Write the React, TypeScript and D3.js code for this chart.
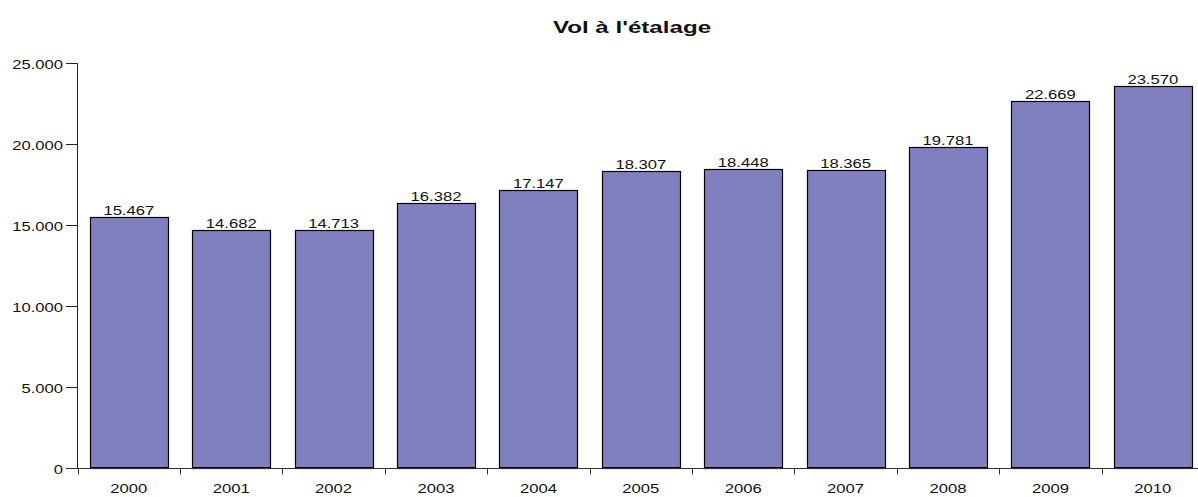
import React, { useRef, useEffect } from 'react';
import * as d3 from 'd3';

// données
const years = ['2000', '2001', '2002', '2003', '2004', '2005', '2006', '2007', '2008', '2009', '2010'];
const values = [15467, 14682, 14713, 16382, 17147, 18307, 18448, 18365, 19781, 22669, 23570];
const yTicks = [0, 5000, 10000, 15000, 20000, 25000];
const title = "Vol à l'étalage";

const fmt = (v: number) => {
  const s = String(v);
  return s.length > 3 ? s.slice(0, s.length - 3) + '.' + s.slice(-3) : s;
};

const App: React.FC = () => {
  const svgRef = useRef<SVGSVGElement>(null);

  useEffect(() => {
    if (!svgRef.current) return;
    const svg = d3.select(svgRef.current);
    svg.selectAll('*').remove();

    const width = 1198;
    const height = 497;
    const left = 77.6;
    const step = 102.4;
    const font = '"Liberation Sans", Arial, sans-serif';
    const sx = 1.28; // le texte de l'original est étiré en largeur

    const x = d3.scaleBand<string>()
      .domain(years)
      .range([left, left + step * years.length])
      .paddingInner(0.24)
      .paddingOuter(0.12);

    const y = d3.scaleLinear().domain([0, 25000]).range([468.3, 62.7]);

    // texte étiré
    const label = (tx: number, ty: number, str: string, size: number, anchor: string, k = sx, weight = 'normal') => {
      svg.append('g')
        .attr('transform', `translate(${tx},${ty}) scale(${k},1)`)
        .append('text')
        .attr('text-anchor', anchor)
        .attr('font-family', font)
        .attr('font-size', size)
        .attr('font-weight', weight)
        .attr('fill', '#111')
        .text(str);
    };

    svg.attr('width', width).attr('height', height);
    svg.append('rect').attr('width', width).attr('height', height).attr('fill', '#fff');

    // titre
    label(632, 32.5, title, 17, 'middle', 1.42, 'bold');

    // barres
    svg.selectAll('rect.bar')
      .data(values)
      .enter()
      .append('rect')
      .attr('class', 'bar')
      .attr('x', (_, i) => Math.round(x(years[i])!) + 0.5)
      .attr('y', d => Math.round(y(d)) + 0.5)
      .attr('width', Math.round(x.bandwidth()))
      .attr('height', d => Math.round(y(0)) - Math.round(y(d)))
      .attr('fill', '#8080C0')
      .attr('stroke', '#000')
      .attr('stroke-width', 1.2);

    // bas des barres plus épais
    values.forEach((_, i) => {
      const bx = Math.round(x(years[i])!) + 0.5;
      svg.append('line')
        .attr('x1', bx).attr('x2', bx + Math.round(x.bandwidth()))
        .attr('y1', Math.round(y(0)) - 0.5).attr('y2', Math.round(y(0)) - 0.5)
        .attr('stroke', '#000').attr('stroke-width', 1);
    });

    // valeurs
    values.forEach((v, i) => {
      label(x(years[i])! + x.bandwidth() / 2, Math.round(y(v)) - 2, fmt(v), 13, 'middle');
    });

    // axe Y
    const y0 = Math.round(y(0)) + 0.5;
    svg.append('line')
      .attr('x1', 77.5).attr('x2', 77.5)
      .attr('y1', Math.round(y(25000)) + 0.5).attr('y2', y0)
      .attr('stroke', '#222');
    yTicks.forEach(t => {
      const ty = Math.round(y(t)) + 0.5;
      svg.append('line')
        .attr('x1', 66).attr('x2', 77.5)
        .attr('y1', ty).attr('y2', ty)
        .attr('stroke', '#222');
      label(63, ty + 5, fmt(t), 13, 'end');
    });

    // axe X
    svg.append('line')
      .attr('x1', 67).attr('x2', width)
      .attr('y1', y0).attr('y2', y0)
      .attr('stroke', '#333');
    years.forEach(yr => {
      const b = x(yr)! - x.step() * x.paddingInner() / 2;
      const bx = Math.round(b) + 0.5;
      svg.append('line')
        .attr('x1', bx).attr('x2', bx)
        .attr('y1', y0).attr('y2', y0 + 6)
        .attr('stroke', '#333');
      label(x(yr)! + x.bandwidth() / 2, 492.5, yr, 13, 'middle');
    });
  }, []);

  return (
    <div style={{ position: 'fixed', left: 0, top: 0 }}>
      <svg ref={svgRef} width="1198" height="497" style={{ display: 'block' }} />
    </div>
  );
};

export default App;
